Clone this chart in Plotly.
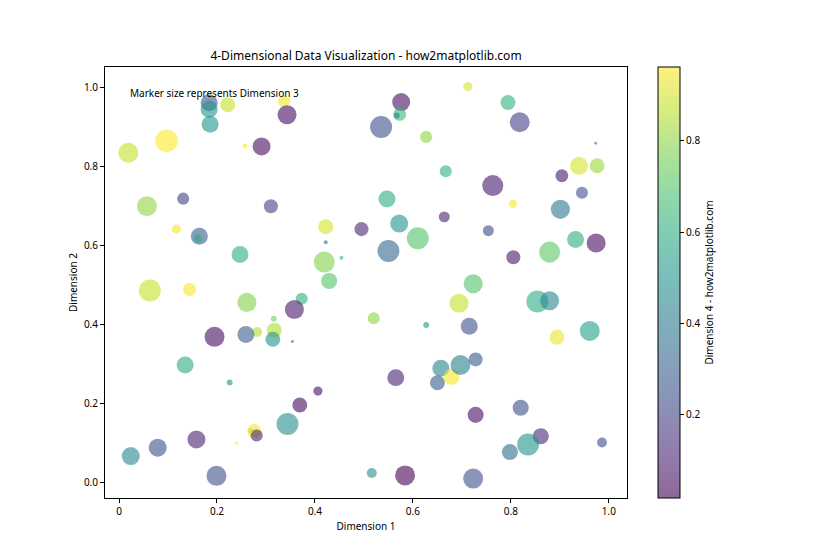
import numpy as np
import plotly.graph_objects as go
from plotly.colors import sample_colorscale, unlabel_rgb

# values
dim1 = [0.184, 0.184, 0.222, 0.186, 0.097, 0.019, 0.257, 0.291, 0.057, 0.131,
        0.117, 0.164, 0.161, 0.247, 0.310, 0.337, 0.343, 0.576, 0.573, 0.567,
        0.535, 0.627, 0.667, 0.547, 0.664, 0.572, 0.610, 0.550, 0.422, 0.495,
        0.422, 0.454, 0.419, 0.429, 0.712, 0.794, 0.818, 0.973, 0.939, 0.976,
        0.904, 0.763, 0.804, 0.945, 0.901, 0.754, 0.932, 0.974, 0.805, 0.879,
        0.723, 0.063, 0.144, 0.261, 0.316, 0.282, 0.317, 0.314, 0.195, 0.259,
        0.135, 0.226, 0.276, 0.281, 0.269, 0.240, 0.158, 0.079, 0.024, 0.199,
        0.344, 0.373, 0.358, 0.520, 0.627, 0.354, 0.565, 0.406, 0.369, 0.516,
        0.584, 0.657, 0.650, 0.679, 0.697, 0.694, 0.715, 0.854, 0.879, 0.894,
        0.961, 0.728, 0.728, 0.820, 0.861, 0.835, 0.798, 0.986, 0.723]
dim2 = [0.960, 0.944, 0.955, 0.906, 0.864, 0.834, 0.851, 0.850, 0.699, 0.718,
        0.641, 0.623, 0.617, 0.577, 0.699, 0.964, 0.930, 0.962, 0.931, 0.928,
        0.899, 0.874, 0.787, 0.717, 0.672, 0.655, 0.618, 0.586, 0.647, 0.641,
        0.608, 0.569, 0.558, 0.510, 1.001, 0.961, 0.911, 0.858, 0.801, 0.801,
        0.776, 0.751, 0.705, 0.733, 0.691, 0.637, 0.615, 0.606, 0.570, 0.583,
        0.503, 0.486, 0.489, 0.456, 0.415, 0.381, 0.386, 0.363, 0.369, 0.375,
        0.298, 0.254, 0.131, 0.120, 0.132, 0.100, 0.110, 0.089, 0.068, 0.018,
        0.149, 0.465, 0.438, 0.416, 0.399, 0.357, 0.266, 0.232, 0.197, 0.025,
        0.019, 0.290, 0.253, 0.268, 0.298, 0.454, 0.396, 0.458, 0.460, 0.368,
        0.384, 0.312, 0.172, 0.190, 0.118, 0.097, 0.078, 0.102, 0.011]
dim3 = [0.54, 0.54, 0.41, 0.54, 0.99, 0.76, 0.034, 0.61, 0.76, 0.26,
        0.14, 0.54, 0.10, 0.54, 0.36, 0.26, 0.69, 0.61, 0.30, 0.05,
        0.93, 0.26, 0.26, 0.54, 0.21, 0.61, 0.93, 0.93, 0.41, 0.36,
        0.019, 0.019, 0.85, 0.48, 0.14, 0.41, 0.76, 0.008, 0.61, 0.41,
        0.30, 0.85, 0.10, 0.26, 0.69, 0.21, 0.54, 0.69, 0.36, 0.85,
        0.69, 0.93, 0.30, 0.69, 0.05, 0.17, 0.41, 0.41, 0.76, 0.54,
        0.54, 0.05, 0.36, 0.26, 0.034, 0.008, 0.61, 0.61, 0.61, 0.76,
        0.93, 0.26, 0.69, 0.26, 0.05, 0.008, 0.54, 0.14, 0.41, 0.17,
        0.76, 0.54, 0.41, 0.48, 0.76, 0.69, 0.54, 0.93, 0.69, 0.41,
        0.76, 0.36, 0.48, 0.48, 0.48, 0.93, 0.48, 0.17, 0.76]
dim4 = [0.28, 0.50, 0.88, 0.50, 0.961, 0.88, 0.95, 0.05, 0.80, 0.20,
        0.95, 0.30, 0.60, 0.60, 0.20, 0.95, 0.05, 0.05, 0.65, 0.45,
        0.25, 0.80, 0.62, 0.60, 0.10, 0.50, 0.70, 0.33, 0.90, 0.12,
        0.35, 0.62, 0.78, 0.70, 0.90, 0.62, 0.20, 0.40, 0.90, 0.82,
        0.08, 0.08, 0.95, 0.25, 0.38, 0.22, 0.60, 0.05, 0.08, 0.72,
        0.70, 0.88, 0.95, 0.78, 0.75, 0.85, 0.85, 0.50, 0.05, 0.30,
        0.60, 0.50, 0.95, 0.10, 0.85, 0.95, 0.10, 0.25, 0.45, 0.25,
        0.48, 0.62, 0.08, 0.80, 0.50, 0.20, 0.10, 0.05, 0.05, 0.48,
        0.018, 0.45, 0.28, 0.95, 0.42, 0.88, 0.25, 0.60, 0.45, 0.93,
        0.55, 0.27, 0.05, 0.25, 0.12, 0.50, 0.35, 0.22, 0.25]

font_family = 'Noto Sans, DejaVu Sans, sans-serif'
alpha = 0.6

# the page body has an 8px margin, so the figure is drawn 8px smaller
W, H = 832, 552
ML, MT = 97, 59
MR, MB = W - ML - 522, H - MT - 431

# matplotlib s = dim3 * 500 (points^2) at 70 dpi -> diameter in px
sizes = np.sqrt(np.array(dim3) * 500) * 70 / 72 + 1
cmin, cmax = min(dim4), max(dim4)


def faded_scale(name, n=11):
    # colorbar drawn like the alpha-blended markers on white
    stops = np.linspace(0, 1, n)
    cols = sample_colorscale(name, list(stops))
    out = []
    for s, c in zip(stops, cols):
        r, g, b = unlabel_rgb(c)
        r, g, b = [alpha * v + (1 - alpha) * 255 for v in (r, g, b)]
        out.append([s, f'rgb({r:.0f},{g:.0f},{b:.0f})'])
    return out


fig = go.Figure()
fig.add_trace(go.Scatter(
    x=dim1,
    y=dim2,
    mode='markers',
    marker={
        'size': sizes,
        'color': dim4,
        'colorscale': 'Viridis',
        'cmin': cmin,
        'cmax': cmax,
        'opacity': alpha,
        'line': {'width': 0},
        'showscale': False,
    },
    showlegend=False,
    hoverinfo='skip',
))

# invisible trace that only carries the faded colorbar
fig.add_trace(go.Scatter(
    x=[None],
    y=[None],
    mode='markers',
    marker={
        'color': [cmin],
        'colorscale': faded_scale('Viridis'),
        'cmin': cmin,
        'cmax': cmax,
        'showscale': True,
        'colorbar': {
            'x': (658 - 8 - ML) / 522,
            'xanchor': 'left',
            'xpad': 0,
            'y': 0.5,
            'yanchor': 'middle',
            'ypad': 0,
            'len': 1,
            'lenmode': 'fraction',
            'thickness': 22,
            'outlinewidth': 1,
            'outlinecolor': 'black',
            'ticks': 'outside',
            'ticklen': 4,
            'tickcolor': 'black',
            'tickvals': [0.2, 0.4, 0.6, 0.8],
            'tickfont': {'size': 10, 'color': 'black'},
            'title': {'text': 'Dimension 4 - how2matplotlib.com', 'side': 'right',
                      'font': {'size': 10, 'color': 'black'}},
        },
    },
    showlegend=False,
))

fig.add_annotation(
    text='Marker size represents Dimension 3',
    xref='x domain', yref='y domain',
    x=0.044, y=0.96, xanchor='left', yanchor='top',
    showarrow=False,
    font={'size': 10, 'color': 'black'},
)

axis_style = dict(
    showline=True, mirror=True, linecolor='black', linewidth=1,
    ticks='outside', ticklen=4, tickcolor='black',
    showgrid=False, zeroline=False,
    tickfont={'size': 10, 'color': 'black'},
)

fig.update_xaxes(
    range=[-0.0286, 1.037],
    tickvals=[0, 0.2, 0.4, 0.6, 0.8, 1.0],
    ticktext=['0', '0.2', '0.4', '0.6', '0.8', '1.0'],
    title={'text': 'Dimension 1', 'font': {'size': 10, 'color': 'black'}, 'standoff': 5},
    **axis_style,
)
fig.update_yaxes(
    range=[-0.038, 1.0505],
    tickvals=[0, 0.2, 0.4, 0.6, 0.8, 1.0],
    ticktext=['0.0', '0.2', '0.4', '0.6', '0.8', '1.0'],
    title={'text': 'Dimension 2', 'font': {'size': 10, 'color': 'black'}, 'standoff': 4},
    **axis_style,
)

fig.update_layout(
    width=W,
    height=H,
    margin={'l': ML, 'r': MR, 't': MT, 'b': MB, 'autoexpand': False},
    paper_bgcolor='white',
    plot_bgcolor='white',
    font={'family': font_family, 'size': 10, 'color': 'black'},
    title={'text': '4-Dimensional Data Visualization - how2matplotlib.com',
           'x': (ML + 261) / W, 'xanchor': 'center',
           'y': 1 - 48 / H, 'yanchor': 'middle',
           'font': {'size': 12, 'color': 'black'}},
)

fig.write_html('out.html')
